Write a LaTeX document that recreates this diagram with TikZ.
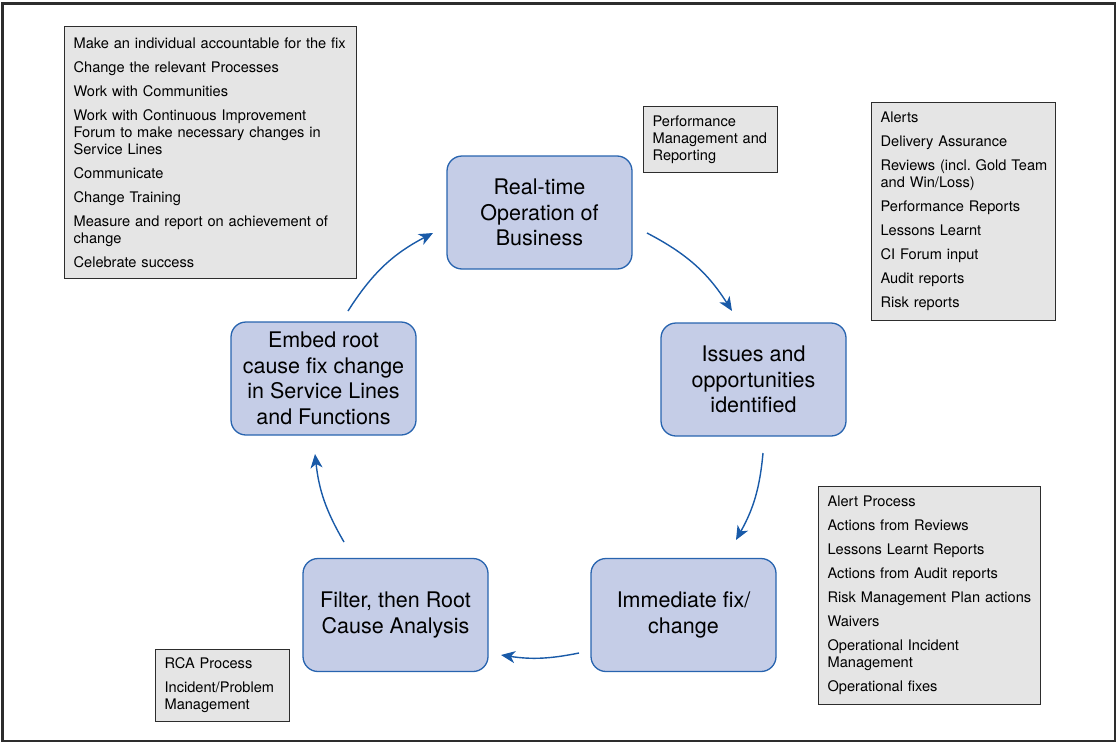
\documentclass[tikz,border=0pt]{standalone}
\usepackage{fontspec}
\setmainfont{TeX Gyre Heros}
\usetikzlibrary{arrows.meta}
\definecolor{boxblue}{RGB}{197,205,231}
\definecolor{edgeblue}{RGB}{40,100,175}
\definecolor{arrowblue}{RGB}{25,90,168}
\definecolor{listgray}{RGB}{229,229,229}
\definecolor{framegray}{RGB}{45,45,45}
\begin{document}
\begin{tikzpicture}[x=1pt,y=-1pt,
  stage/.style={draw=edgeblue, fill=boxblue, line width=1.3pt, rounded corners=15pt,
    minimum width=185pt, minimum height=113pt, align=center, inner sep=0pt,
    font=\fontsize{21.5}{25.5}\selectfont},
  listbox/.style={draw=framegray, fill=listgray, line width=1.2pt, anchor=north west,
    align=left, inner xsep=9pt, inner ysep=0pt, font=\fontsize{14.6}{17}\selectfont},
  flow/.style={draw=arrowblue, line width=1.4pt, -{Stealth[length=14pt,width=12pt,inset=4pt]}}]
\useasboundingbox (0,0) rectangle (1118,744);
\draw[framegray, line width=2.4pt] (2.5,3.5) rectangle (1115,741);

% stages
\node[stage] (rt) at (539.5,212.5) {Real-time\\Operation of\\Business};
\node[stage] (io) at (753.5,379.5) {Issues and\\opportunities\\identified};
\node[stage] (im) at (683.5,615) {Immediate fix/\\change};
\node[stage] (rc) at (395.5,615) {Filter, then Root\\Cause Analysis};
\node[stage] (em) at (323.5,378.5) {Embed root\\cause fix change\\in Service Lines\\and Functions};

% lists
\node[listbox, text width=274pt, minimum height=252pt] (la) at (64,26)
  {Make an individual accountable for the fix\\[7pt]
   Change the relevant Processes\\[7pt]
   Work with Communities\\[7pt]
   Work with Continuous Improvement\\
   Forum to make necessary changes in\\
   Service Lines\\[7pt]
   Communicate\\[7pt]
   Change Training\\[7pt]
   Measure and report on achievement of\\
   change\\[7pt]
   Celebrate success};
\node[listbox, text width=116pt, minimum height=66pt] (lb) at (643,106)
  {Performance\\Management and\\Reporting};
\node[listbox, text width=166pt, minimum height=218pt] (lc) at (871,102)
  {Alerts\\[7pt]
   Delivery Assurance\\[7pt]
   \mbox{Reviews (incl.\ Gold Team}\\
   and Win/Loss)\\[7pt]
   Performance Reports\\[7pt]
   Lessons Learnt\\[7pt]
   CI Forum input\\[7pt]
   Audit reports\\[7pt]
   Risk reports};
\node[listbox, text width=204pt, minimum height=218pt] (ld) at (818,486)
  {Alert Process\\[7pt]
   Actions from Reviews\\[7pt]
   Lessons Learnt Reports\\[7pt]
   Actions from Audit reports\\[7pt]
   Risk Management Plan actions\\[7pt]
   Waivers\\[7pt]
   Operational Incident\\
   Management\\[7pt]
   Operational fixes};
\node[listbox, text width=116pt, minimum height=72pt] (le) at (155,649)
  {RCA Process\\[7pt]
   Incident/Problem\\
   Management};

% arrows
\coordinate (a1s) at (647,233);  \coordinate (a1e) at (732,311);
\coordinate (a2s) at (763,453);  \coordinate (a2e) at (736,540);
\coordinate (a3s) at (579,653);  \coordinate (a3e) at (501,655);
\coordinate (a4s) at (344,542);  \coordinate (a4e) at (315,454);
\coordinate (a5s) at (348,311);  \coordinate (a5e) at (433,233);
\draw[flow] (a1s) to[bend left=15] (a1e);
\draw[flow] (a2s) to[bend left=12] (a2e);
\draw[flow] (a3s) to[bend left=10] (a3e);
\draw[flow] (a4s) to[bend left=12] (a4e);
\draw[flow] (a5s) to[bend left=15] (a5e);
\end{tikzpicture}
\end{document}
